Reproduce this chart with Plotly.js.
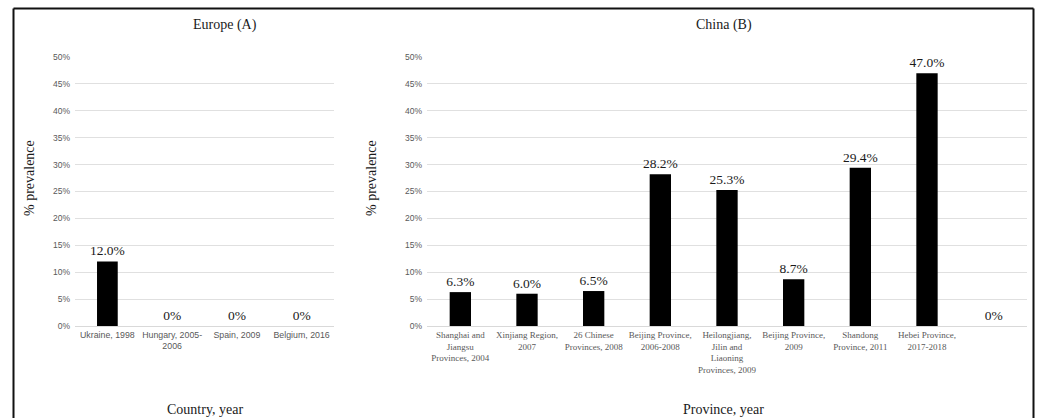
<!DOCTYPE html>
<html>
<head>
<meta charset="utf-8">
<script src="https://cdn.plot.ly/plotly-3.0.1.min.js"></script>
<style>html,body{margin:0;padding:0;background:#fff;}#chart{width:1037px;height:419px;}</style>
</head>
<body>
<div id="chart"></div>
<script>
// Europe (A)
const europeCategories = ["Ukraine, 1998", "Hungary, 2005-<br>2006", "Spain, 2009", "Belgium, 2016"];
const europeValues = [12.0, 0, 0, 0];

// China (B)
const chinaCategories = [
  "Shanghai and<br>Jiangsu<br>Provinces, 2004",
  "Xinjiang Region,<br>2007",
  "26 Chinese<br>Provinces, 2008",
  "Beijing Province,<br>2006-2008",
  "Heilongjiang,<br>Jilin and<br>Liaoning<br>Provinces, 2009",
  "Beijing Province,<br>2009",
  "Shandong<br>Province, 2011",
  "Hebei Province,<br>2017-2018",
  " "
];
const chinaValues = [6.3, 6.0, 6.5, 28.2, 25.3, 8.7, 29.4, 47.0, 0];

const yTickVals = [0, 5, 10, 15, 20, 25, 30, 35, 40, 45, 50];
const yTickText = ["0%", "5%", "10%", "15%", "20%", "25%", "30%", "35%", "40%", "45%", "50%"];

const W = 1037, H = 419;
const px = x => x / W;
const py = y => 1 - y / H;

function fmt(v) { return v === 0 ? "0%" : v.toFixed(1) + "%"; }

const serif = "Liberation Serif";
const sans = "Liberation Sans";

const valueFont = { family: serif, size: 13.5, color: "#1a1a1a" };

const barCommon = {
  type: "bar",
  marker: { color: "#000000", line: { width: 0 } },
  textposition: "outside",
  constraintext: "none",
  cliponaxis: false,
  textfont: valueFont,
  outsidetextfont: valueFont,
  hoverinfo: "skip",
  width: 0.32
};

const traces = [
  Object.assign({}, barCommon, {
    x: europeCategories, y: europeValues, text: europeValues.map(fmt),
    xaxis: "x", yaxis: "y"
  }),
  Object.assign({}, barCommon, {
    x: chinaCategories, y: chinaValues, text: chinaValues.map(fmt),
    xaxis: "x2", yaxis: "y2"
  })
];

const yCommon = {
  range: [0, 50],
  tickvals: yTickVals, ticktext: yTickText,
  showgrid: true, gridcolor: "#e0e0e0", gridwidth: 1,
  zeroline: false, showline: false, ticks: "",
  ticklabelstandoff: 4,
  tickfont: { family: sans, size: 8.5, color: "#595959" },
  fixedrange: true, automargin: false,
  domain: [py(326), py(57)]
};

const layout = {
  width: W, height: H,
  margin: { l: 0, r: 0, t: 0, b: 0, pad: 0 },
  paper_bgcolor: "#ffffff", plot_bgcolor: "#ffffff",
  showlegend: false,
  xaxis: {
    domain: [px(75), px(334)], anchor: "y", type: "category",
    showgrid: false, zeroline: false, showline: true, linecolor: "#d9d9d9", linewidth: 1,
    ticks: "", tickangle: 0,
    tickfont: { family: sans, size: 8.8, color: "#595959" },
    fixedrange: true, automargin: false
  },
  yaxis: Object.assign({}, yCommon, { anchor: "x" }),
  xaxis2: {
    domain: [px(427), px(1027)], anchor: "y2", type: "category",
    showgrid: false, zeroline: false, showline: true, linecolor: "#d9d9d9", linewidth: 1,
    ticks: "", tickangle: 0,
    tickfont: { family: serif, size: 9, color: "#595959" },
    fixedrange: true, automargin: false
  },
  yaxis2: Object.assign({}, yCommon, { anchor: "x2" }),
  shapes: [
    { type: "line", xref: "paper", yref: "paper", x0: px(13.5), x1: px(1033.5), y0: py(8.5), y1: py(8.5), line: { color: "#111", width: 2 } },
    { type: "line", xref: "paper", yref: "paper", x0: px(13.5), x1: px(13.5), y0: py(8.5), y1: py(418), line: { color: "#111", width: 2 } },
    { type: "line", xref: "paper", yref: "paper", x0: px(1033.5), x1: px(1033.5), y0: py(8.5), y1: py(418), line: { color: "#111", width: 2 } }
  ],
  annotations: [
    { text: "Europe (A)", xref: "paper", yref: "paper", x: px(225), y: py(25), xanchor: "center", yanchor: "middle", showarrow: false, font: { family: serif, size: 14, color: "#1a1a1a" } },
    { text: "China (B)", xref: "paper", yref: "paper", x: px(724), y: py(25), xanchor: "center", yanchor: "middle", showarrow: false, font: { family: serif, size: 14, color: "#1a1a1a" } },
    { text: "Country, year", xref: "paper", yref: "paper", x: px(205), y: py(409), xanchor: "center", yanchor: "middle", showarrow: false, font: { family: serif, size: 14, color: "#1a1a1a" } },
    { text: "Province, year", xref: "paper", yref: "paper", x: px(723), y: py(409), xanchor: "center", yanchor: "middle", showarrow: false, font: { family: serif, size: 14, color: "#1a1a1a" } },
    { text: "% prevalence", xref: "paper", yref: "paper", x: px(30), y: py(178), xanchor: "center", yanchor: "middle", textangle: -90, showarrow: false, font: { family: serif, size: 14, color: "#1a1a1a" } },
    { text: "% prevalence", xref: "paper", yref: "paper", x: px(372), y: py(178), xanchor: "center", yanchor: "middle", textangle: -90, showarrow: false, font: { family: serif, size: 14, color: "#1a1a1a" } }
  ]
};

Plotly.newPlot("chart", traces, layout, { displayModeBar: false, staticPlot: true });
</script>
</body>
</html>
